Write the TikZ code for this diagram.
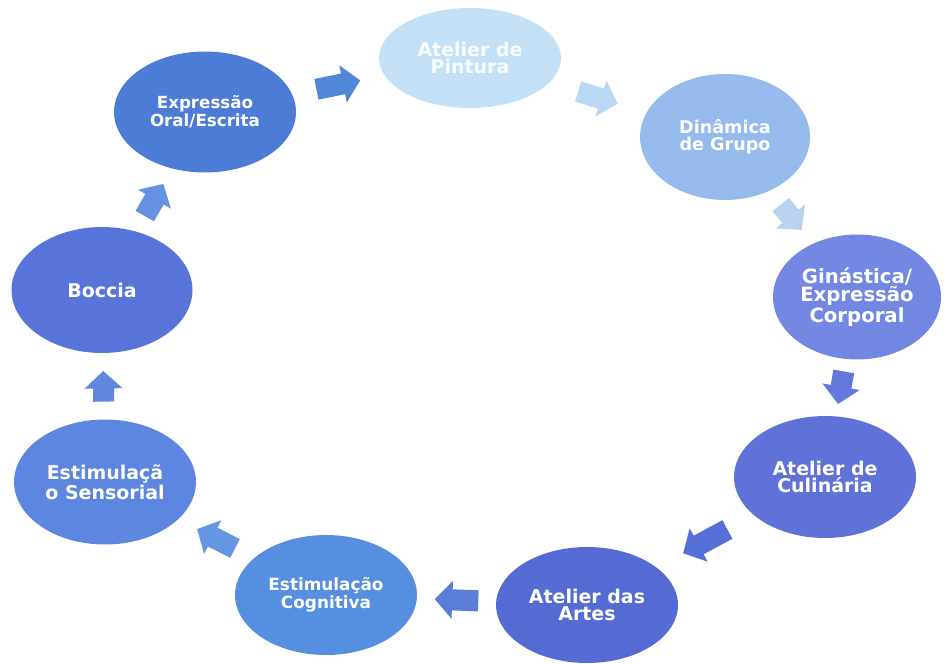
\documentclass[tikz,border=0pt]{standalone}
\usepackage{fontspec}
\setmainfont{DejaVu Sans}
\usepackage{tikz}
\usetikzlibrary{shapes.geometric,arrows.meta}
\definecolor{pinturablue}{RGB}{196,224,246}
\definecolor{dinamicablue}{RGB}{150,186,236}
\definecolor{ginasticablue}{RGB}{114,134,226}
\definecolor{culinariablue}{RGB}{96,114,216}
\definecolor{artesblue}{RGB}{86,106,212}
\definecolor{cognitivablue}{RGB}{86,142,224}
\definecolor{sensorialblue}{RGB}{92,134,224}
\definecolor{bocciablue}{RGB}{88,116,216}
\definecolor{expressaoblue}{RGB}{76,124,214}
\definecolor{arrowA}{RGB}{80,135,215}
\definecolor{arrowB}{RGB}{186,216,241}
\definecolor{arrowC}{RGB}{186,210,240}
\definecolor{arrowD}{RGB}{100,120,220}
\definecolor{arrowE}{RGB}{86,110,215}
\definecolor{arrowF}{RGB}{90,125,215}
\definecolor{arrowG}{RGB}{100,150,225}
\definecolor{arrowH}{RGB}{95,135,220}
\definecolor{arrowI}{RGB}{100,145,225}

\begin{document}
\begin{tikzpicture}[
x=0.02cm, y=-0.02cm,
cyclenode/.style={ellipse, minimum width=3.64cm, minimum height=2.44cm, inner sep=0pt, text=white, align=center, textsize=10.8},
textsize/.style={font=\bfseries\fontsize{#1}{10}\selectfont},
cyclearrow/.style={draw=#1, line width=12pt, -{Triangle[width=21pt,length=10pt]}, shorten <=10pt, shorten >=10pt}
]
    \useasboundingbox (0,0) rectangle (949,663);
    %Nodes
    \node[cyclenode, fill=pinturablue, minimum height=2cm, text=white!90!pinturablue]
        (pintura)   at (470,58)     {Atelier de\\Pintura};
    \node[cyclenode, fill=dinamicablue, minimum width=3.4cm, minimum height=2.52cm, textsize=10]
        (dinamica)  at (725,137)    {Dinâmica\\de Grupo};
    \node[cyclenode, fill=ginasticablue, minimum width=3.36cm, minimum height=2.5cm, textsize=11.2]
        (ginastica) at (857,297)    {Ginástica/\\Expressão\\Corporal};
    \node[cyclenode, fill=culinariablue]
        (culinaria) at (825,477)    {Atelier de\\Culinária};
    \node[cyclenode, fill=artesblue, minimum height=2.32cm]
        (artes)     at (587,605)    {Atelier das\\Artes};
    \node[cyclenode, fill=cognitivablue, minimum height=2.4cm, textsize=9.6]
        (cognitiva) at (326,595)    {Estimulação\\Cognitiva};
    \node[cyclenode, fill=sensorialblue, minimum height=2.5cm]
        (sensorial) at (105,482)    {Estimulaçã\\o Sensorial};
    \node[cyclenode, fill=bocciablue, minimum width=3.62cm, minimum height=2.52cm]
        (boccia)    at (102,290)    {Boccia};
    \node[cyclenode, fill=expressaoblue, minimum height=2.42cm, textsize=9.5]
        (expressao) at (205,112)    {Expressão\\Oral/Escrita};

    %Arrows
    \draw[cyclearrow=arrowA, shorten <=14pt, shorten >=14pt]
        (expressao) -- (pintura);
    \draw[cyclearrow=arrowB, shorten <=17pt, shorten >=17pt]
        (pintura) -- (dinamica);
    \draw[cyclearrow=arrowC]
        (dinamica) -- (ginastica);
    \draw[cyclearrow=arrowD, shorten <=7pt, shorten >=7pt]
        (ginastica) -- (culinaria);
    \draw[cyclearrow=arrowE, shorten <=17pt, shorten >=17pt]
        (culinaria) -- (artes);
    \draw[cyclearrow=arrowF]
        (artes) -- (cognitiva);
    \draw[cyclearrow=arrowG, shorten <=12pt, shorten >=12pt]
        (cognitiva) -- (sensorial);
    \draw[cyclearrow=arrowH]
        (sensorial) -- (boccia);
    \draw[cyclearrow=arrowI]
        (boccia) -- (expressao);
\end{tikzpicture}
\end{document}
